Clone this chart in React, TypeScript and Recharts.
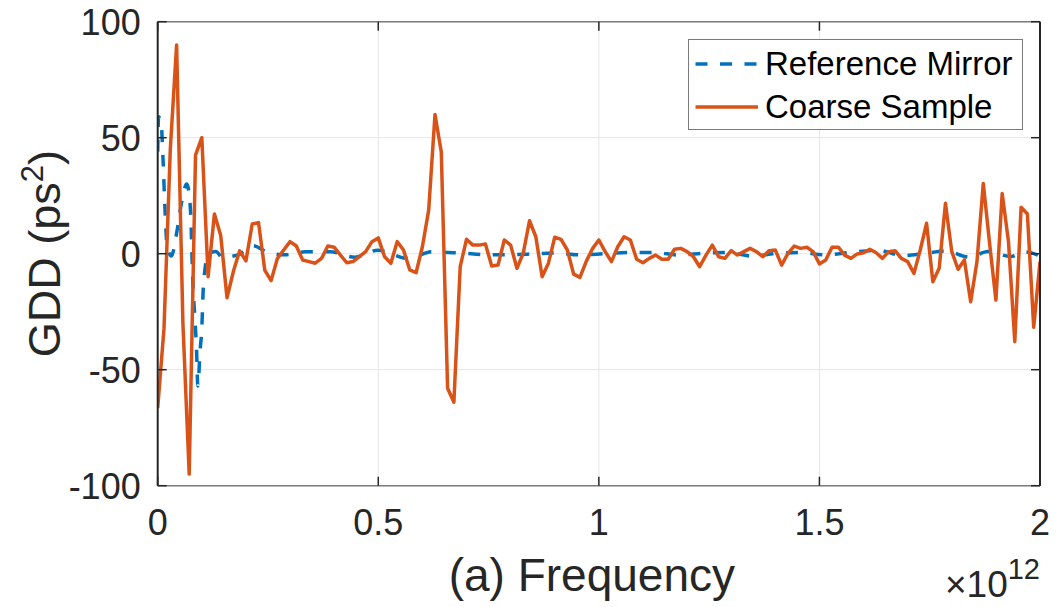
import React from 'react';
import { LineChart, Line, XAxis, YAxis, CartesianGrid, Legend } from 'recharts';

// ---- axis ticks (frequency in units of 1e12) ----
const xTicks = [0, 0.5, 1, 1.5, 2];
const xTickLabels = ['0', '0.5', '1', '1.5', '2'];
const yTicks = [-100, -50, 0, 50, 100];
const yTickLabels = ['-100', '-50', '0', '50', '100'];

// ---- Coarse Sample: GDD (ps^2) on a uniform grid 0..2e12 ----
const coarseGdd = [
  -66.6, -32.2, 45, 90, -30, -95, 42.5, 50, -9.9, 17.1,
  7.8, -19, -7.7, 1.2, -3.1, 12.8, 13.4, -7.2, -11.6, -2,
  1.6, 5.2, 3.3, -2.7, -3.4, -4.1, -2, 3.3, 2.8, -0.6,
  -3.9, -3.4, -1.3, 0.9, 5.2, 6.8, -1.3, -4.1, 5.2, 1.6,
  -7, -8.2, 3, 18.8, 60, 43.8, -58, -64, -5.6, 6.2,
  3.7, 3.7, 4.2, -5.3, -4.9, 5.9, 3.7, -6.3, 0.2, 14.2,
  7.3, -9.9, -4.1, 7.1, 6.2, 1.6, -8.8, -10.2, -3.3, 2.2,
  5.9, 0.9, -3.4, 3, 7.3, 5.9, -2.4, -3.9, -2, -0.6,
  -2.4, -2.4, 1.9, 2.3, 0.9, -1.3, -5.6, -0.6, 3.7, -1.3,
  -2, 1.3, -0.6, 0.9, 2.3, 0.9, -1.3, 1.3, 1.6, -4.9,
  0.1, 3.3, 2.3, 2.8, 0.9, -4.4, -2.7, 2.8, 2.8, -0.6,
  -2, -0.1, 0.4, 1.9, 0.4, -2, 0.9, 1.3, -2, -3.4,
  -8.5, 1.6, 13.1, -12.1, -6.3, 21.7, 0.9, -6.7, -2.7, -20.7,
  -3.4, 30.3, 4.5, -20, 26, 5.2, -37.9, 20, 17.1, -31.7,
  -3.4,
];
const coarseFreq = coarseGdd.map((_, i) => (i * 2) / (coarseGdd.length - 1));

// ---- Reference Mirror: GDD (ps^2) ----
const mirrorFreq = [
  0, 0.002, 0.008, 0.012, 0.017, 0.021, 0.031, 0.043, 0.054, 0.066,
  0.071, 0.075, 0.079, 0.084, 0.088, 0.091, 0.096, 0.1, 0.103, 0.107,
  0.115, 0.132, 0.146, 0.182, 0.216, 0.25, 0.289, 0.334, 0.391, 0.447,
  0.499, 0.567, 0.622, 0.685, 0.753, 0.839, 0.9, 0.957, 1.014, 1.071,
  1.127, 1.182, 1.239, 1.293, 1.347, 1.4, 1.458, 1.512, 1.569, 1.632,
  1.689, 1.735, 1.785, 1.841, 1.882, 1.934, 1.966, 2,
];
const mirrorGdd = [
  44, 59, 56, 41, 17, 4, -1, 9, 22, 30,
  26, 16, -9, -27, -41, -57, -42, -32, -16, -7,
  0, 1, -1.5, -0.5, 3.5, 0.5, -0.5, 0.8, 0.8, -1.5,
  1.5, -2, 0.8, 0.3, -0.5, -0.2, 0.3, -0.5, 0, 0.5,
  0.5, -0.6, 0.2, 0.5, -1, 0, 0.5, -0.5, 0.5, 1.5,
  -0.8, 0, 1.2, -1.5, 0.9, -1.2, 0.8, -1,
];

const seriesNames = ['Reference Mirror', 'Coarse Sample'];
const seriesColors = ['#0072BD', '#D95319'];

const coarseData = coarseFreq.map((f, i) => ({ f, gdd: coarseGdd[i] }));
const mirrorData = mirrorFreq.map((f, i) => ({ f, gdd: mirrorGdd[i] }));

// ---- layout ----
const W = 1056;
const H = 607;
const PL = 157.7;
const PR = 1040;
const PT = 21.7;
const PB = 485.7;
const FONT = '"Liberation Sans", Arial, Helvetica, sans-serif';
const AX = '#262626';
const TICK_LEN = 9;

const XTick = (props: any) => {
  const { x, payload, side } = props;
  const idx = xTicks.indexOf(payload.value);
  if (side === 'top') {
    return <line x1={x} x2={x} y1={PT} y2={PT + TICK_LEN} stroke={AX} strokeWidth={1.5} />;
  }
  return (
    <g>
      <line x1={x} x2={x} y1={PB} y2={PB - TICK_LEN} stroke={AX} strokeWidth={1.5} />
      <text x={x} y={PB + 49} textAnchor="middle" fontFamily={FONT} fontSize={36} fill={AX}>
        {xTickLabels[idx]}
      </text>
    </g>
  );
};

const YTick = (props: any) => {
  const { y, payload, side } = props;
  const idx = yTicks.indexOf(payload.value);
  if (side === 'right') {
    return <line x1={PR} x2={PR - TICK_LEN} y1={y} y2={y} stroke={AX} strokeWidth={1.5} />;
  }
  return (
    <g>
      <line x1={PL} x2={PL + TICK_LEN} y1={y} y2={y} stroke={AX} strokeWidth={1.5} />
      <text x={PL - 17} y={y + 13} textAnchor="end" fontFamily={FONT} fontSize={36} fill={AX}>
        {yTickLabels[idx]}
      </text>
    </g>
  );
};

const LegendBox = () => (
  <div
    style={{
      boxSizing: 'border-box',
      width: 335,
      height: 91,
      border: '1px solid #7a7a7a',
      background: '#fff',
      fontFamily: FONT,
      fontSize: 33,
      color: '#000',
      paddingTop: 2,
    }}
  >
    {seriesNames.map((name, i) => (
      <div key={name} style={{ display: 'flex', alignItems: 'center', height: 43, whiteSpace: 'nowrap' }}>
        <svg width={76} height={10} style={{ display: 'block' }}>
          <line
            x1={6.5}
            x2={69}
            y1={5}
            y2={5}
            stroke={seriesColors[i]}
            strokeWidth={3.5}
            strokeDasharray={i === 0 ? '12 12.5' : undefined}
          />
        </svg>
        <span style={{ lineHeight: '43px' }}>{name}</span>
      </div>
    ))}
  </div>
);

export default function App() {
  return (
    <div style={{ position: 'absolute', left: 0, top: 0, width: W, height: H, background: '#fff' }}>
      <LineChart
        width={W}
        height={H}
        margin={{ top: PT - 1, left: 0, right: W - PR - 1, bottom: 0 }}
      >
        <CartesianGrid xAxisId="b" yAxisId="l" stroke="#e6e6e6" strokeWidth={1} />
        <XAxis
          xAxisId="b"
          type="number"
          dataKey="f"
          domain={[0, 2]}
          ticks={xTicks}
          interval={0}
          allowDataOverflow
          height={H - PB}
          tickSize={0}
          tickMargin={0}
          tickLine={false}
          axisLine={{ stroke: '#7a7a7a', strokeWidth: 1.5 }}
          tick={<XTick side="bottom" />}
        />
        <XAxis
          xAxisId="t"
          orientation="top"
          type="number"
          dataKey="f"
          domain={[0, 2]}
          ticks={xTicks}
          interval={0}
          allowDataOverflow
          height={1}
          tickSize={0}
          tickMargin={0}
          tickLine={false}
          axisLine={{ stroke: '#7a7a7a', strokeWidth: 1.5 }}
          tick={<XTick side="top" />}
        />
        <YAxis
          yAxisId="l"
          type="number"
          domain={[-100, 100]}
          ticks={yTicks}
          interval={0}
          allowDataOverflow
          width={PL}
          tickSize={0}
          tickMargin={0}
          tickLine={false}
          axisLine={{ stroke: AX, strokeWidth: 2 }}
          tick={<YTick side="left" />}
        />
        <YAxis
          yAxisId="r"
          orientation="right"
          type="number"
          domain={[-100, 100]}
          ticks={yTicks}
          interval={0}
          allowDataOverflow
          width={1}
          tickSize={0}
          tickMargin={0}
          tickLine={false}
          axisLine={{ stroke: AX, strokeWidth: 2 }}
          tick={<YTick side="right" />}
        />
        <Line
          xAxisId="b"
          yAxisId="l"
          data={mirrorData}
          dataKey="gdd"
          name={seriesNames[0]}
          type="monotone"
          stroke={seriesColors[0]}
          strokeWidth={3.5}
          strokeDasharray="12 12.5"
          dot={false}
          activeDot={false}
          isAnimationActive={false}
        />
        <Line
          xAxisId="b"
          yAxisId="l"
          data={coarseData}
          dataKey="gdd"
          name={seriesNames[1]}
          type="linear"
          stroke={seriesColors[1]}
          strokeWidth={3.5}
          strokeLinejoin="round"
          dot={false}
          activeDot={false}
          isAnimationActive={false}
        />
        <Legend
          layout="vertical"
          align="center"
          verticalAlign="middle"
          content={<LegendBox />}
          wrapperStyle={{ position: 'absolute', left: 688, top: 39, width: 335, height: 91 }}
        />
      </LineChart>
      <svg
        width={W}
        height={H}
        style={{ position: 'absolute', left: 0, top: 0, pointerEvents: 'none' }}
      >
        <text
          transform={`translate(60, ${(PT + PB) / 2}) rotate(-90)`}
          textAnchor="middle"
          fontFamily={FONT}
          fontSize={45}
          fill={AX}
        >
          GDD (ps
          <tspan dy={-17} fontSize={31}>2</tspan>
          <tspan dy={17}>)</tspan>
        </text>
        <text x={(PL + PR) / 2 - 7} y={591} textAnchor="middle" fontFamily={FONT} fontSize={46} fill={AX}>
          (a) Frequency
        </text>
        <text x={1040} y={597} textAnchor="end" fontFamily={FONT} fontSize={37} fill={AX}>
          ×10
          <tspan dy={-18} fontSize={29}>12</tspan>
        </text>
      </svg>
    </div>
  );
}
